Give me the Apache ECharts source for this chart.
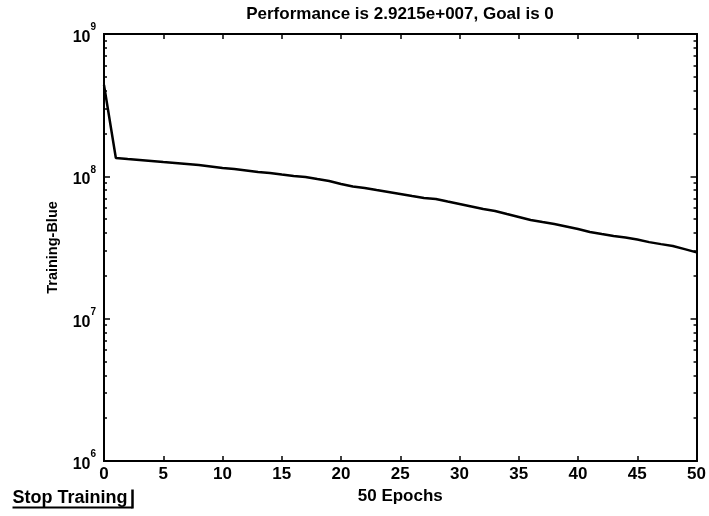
<!DOCTYPE html>
<html>
<head>
<meta charset="utf-8">
<script src="https://cdn.jsdelivr.net/npm/echarts@6/dist/echarts.min.js"></script>
<style>
  html, body { margin: 0; padding: 0; background: #fff; }
  #main { width: 709px; height: 516px; }
</style>
</head>
<body>
<div id="main"></div>
<script>
// training performance per epoch
var epochs = [];
for (var e = 0; e <= 50; e++) epochs.push(e);
var perf = [
  4.38e8, 1.345e8, 1.323e8, 1.302e8, 1.281e8, 1.260e8, 1.240e8, 1.220e8, 1.200e8, 1.172e8,
  1.144e8, 1.125e8, 1.099e8, 1.072e8, 1.055e8, 1.029e8, 1.005e8, 9.89e7, 9.57e7, 9.27e7,
  8.83e7, 8.48e7, 8.28e7, 8.01e7, 7.76e7, 7.51e7, 7.27e7, 7.04e7, 6.93e7, 6.65e7,
  6.39e7, 6.14e7, 5.89e7, 5.70e7, 5.43e7, 5.18e7, 4.93e7, 4.77e7, 4.62e7, 4.44e7,
  4.26e7, 4.06e7, 3.93e7, 3.81e7, 3.72e7, 3.60e7, 3.45e7, 3.34e7, 3.24e7, 3.08e7,
  2.9215e7
];
var majorTicks = [1e6, 1e7, 1e8, 1e9];
var minorMult = [2, 3, 4, 5, 6, 7, 8, 9];
var titleText = 'Performance is 2.9215e+007, Goal is 0';

var minorTicks = [];
for (var d = 6; d < 9; d++) {
  for (var m = 0; m < minorMult.length; m++) minorTicks.push(minorMult[m] * Math.pow(10, d));
}

var points = [];
for (var i = 0; i < epochs.length; i++) points.push([epochs[i], perf[i]]);

var font = 'Liberation Sans, Arial, sans-serif';
var myChart = echarts.init(document.getElementById('main'));

function logAxis(pos, ticks, len, withLabels) {
  return {
    type: 'log', logBase: 10, min: 1e6, max: 1e9,
    position: pos,
    axisLine: { show: true, lineStyle: { color: '#000', width: 2 } },
    axisTick: { show: true, inside: true, length: len, customValues: ticks,
      lineStyle: { color: '#000', width: 1.5 } },
    splitLine: { show: false },
    axisLabel: withLabels ? {
      show: true, customValues: majorTicks, margin: 8,
      formatter: function(v) {
        return '{n|10}{s|' + Math.round(Math.log10(v)) + '}';
      },
      rich: {
        n: { fontSize: 16, fontWeight: 'bold', color: '#000', fontFamily: font, lineHeight: 23, verticalAlign: 'bottom' },
        s: { fontSize: 10, fontWeight: 'bold', color: '#000', fontFamily: font, verticalAlign: 'top' }
      }
    } : { show: false }
  };
}

option = {
  backgroundColor: '#fff',
  animation: false,
  title: {
    text: titleText,
    left: 400, top: 6, textAlign: 'center', padding: 0,
    textStyle: { fontSize: 17, fontWeight: 'bold', color: '#000', fontFamily: font }
  },
  grid: { left: 104, right: 9, top: 34, bottom: 55 },
  xAxis: [{
    type: 'value', min: 0, max: 50, interval: 5,
    position: 'bottom',
    name: '50 Epochs', nameLocation: 'middle', nameGap: 25,
    nameTextStyle: { fontSize: 17, fontWeight: 'bold', color: '#000', fontFamily: font },
    axisLine: { lineStyle: { color: '#000', width: 2 } },
    axisTick: { inside: true, length: 5, lineStyle: { color: '#000', width: 1.5 } },
    splitLine: { show: false },
    axisLabel: { fontSize: 17, fontWeight: 'bold', color: '#000', fontFamily: font, margin: 5 }
  }, {
    type: 'value', min: 0, max: 50, interval: 5,
    position: 'top',
    axisLine: { lineStyle: { color: '#000', width: 2 } },
    axisTick: { inside: true, length: 5, lineStyle: { color: '#000', width: 1.5 } },
    splitLine: { show: false },
    axisLabel: { show: false }
  }],
  yAxis: [
    echarts.util.extend(logAxis('left', majorTicks, 6, true), {
      name: 'Training-Blue', nameLocation: 'middle', nameGap: 44, nameRotate: 90,
      nameTextStyle: { fontSize: 14.5, fontWeight: 'bold', color: '#000', fontFamily: font }
    }),
    logAxis('left', minorTicks, 3, false),
    logAxis('right', majorTicks, 6, false),
    logAxis('right', minorTicks, 3, false)
  ],
  series: [{
    type: 'line',
    data: points,
    xAxisIndex: 0, yAxisIndex: 0,
    showSymbol: false,
    lineStyle: { color: '#000', width: 2.5 }
  }],
  graphic: [{
    type: 'group', left: 10, top: 487,
    children: [{
      type: 'text', x: 0, y: 0,
      style: { text: 'Stop Training', fontSize: 18, fontWeight: 'bold', fill: '#000', fontFamily: font }
    }, {
      type: 'line', shape: { x1: 0, y1: 18, x2: 120, y2: 18 },
      style: { stroke: '#000', lineWidth: 2 }
    }, {
      type: 'line', shape: { x1: 120, y1: 0, x2: 120, y2: 19 },
      style: { stroke: '#000', lineWidth: 2.5 }
    }]
  }]
};

myChart.setOption(option);
</script>
</body>
</html>
